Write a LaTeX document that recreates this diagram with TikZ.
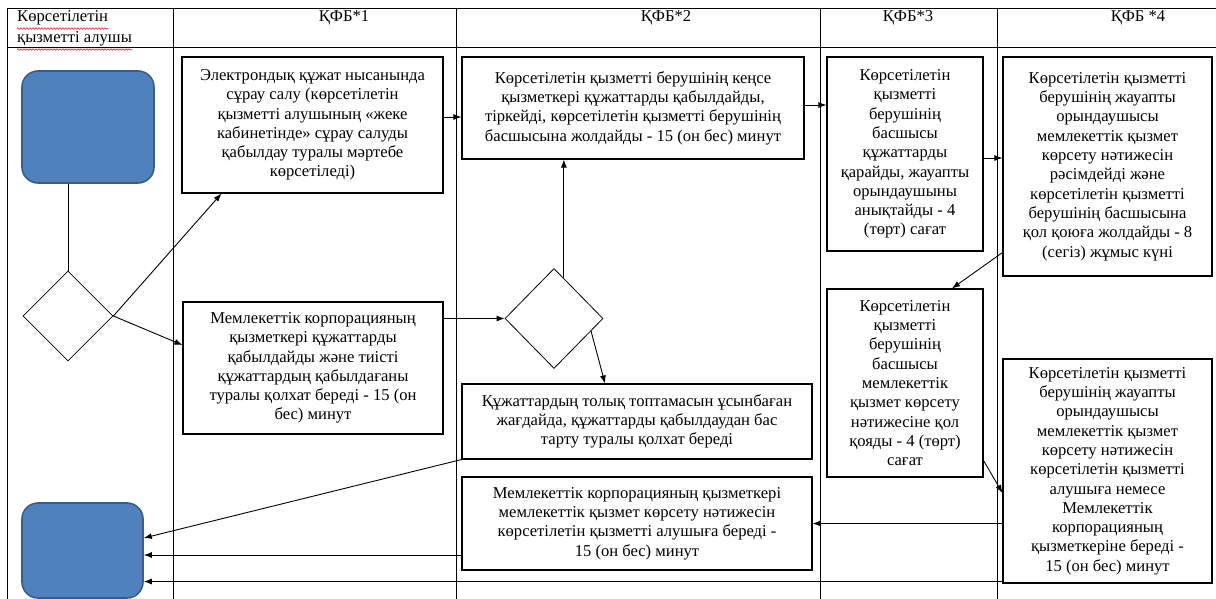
\documentclass[tikz,border=0pt]{standalone}
\usepackage{fontspec}
\setmainfont{Liberation Serif}
\usetikzlibrary{arrows.meta,calc,shapes.geometric,decorations.pathmorphing}
\definecolor{termfill}{HTML}{4F81BD}
\definecolor{termline}{HTML}{385D8A}
\begin{document}
\begin{tikzpicture}[x=1pt,y=-1pt,
  lane/.style={line width=1pt,black},
  procbox/.style={draw,line width=1.1pt,align=center,inner sep=2pt,
    font=\fontsize{16.6}{19.3}\selectfont},
  term/.style={draw=termline,fill=termfill,line width=1.6pt,rounded corners=16pt},
  decision/.style={draw,diamond,line width=0.8pt,inner sep=0pt},
  arr/.style={line width=0.9pt,-{Latex[length=8pt,width=6pt]}},
  plain/.style={line width=0.9pt},
  headtext/.style={font=\fontsize{16.6}{20}\selectfont,inner sep=0pt},
  spell/.style={red,line width=0.5pt,decorate,decoration={snake,amplitude=0.8pt,segment length=3pt}}
]
\useasboundingbox (0,0) rectangle (1216,599);
% lanes / table
\draw[lane] (7,9) -- (1216,9);
\draw[lane] (7,48) -- (1216,48);
\draw[lane] (7,9) -- (7,599);
\draw[lane] (173,9) -- (173,599);
\draw[lane] (456,9) -- (456,599);
\draw[lane] (820,9) -- (820,599);
\draw[lane] (997,9) -- (997,599);
% headers
\node[headtext,anchor=west] (h0a) at (17,18) {Көрсетілетін};
\node[headtext,anchor=west] (h0b) at (17,39) {қызметті алушы};
\coordinate (u1a) at ($(h0a.south west)+(0,3)$);
\coordinate (u1b) at ($(h0a.south east)+(0,3)$);
\coordinate (u2a) at ($(h0b.south west)+(0,3)$);
\coordinate (u2b) at ($(h0b.south east)+(0,3)$);
\draw[spell] (u1a) -- (u1b);
\draw[spell] (u2a) -- (u2b);
\node[headtext] (h1) at (344,18) {ҚФБ*1};
\node[headtext] (h2) at (666,18) {ҚФБ*2};
\node[headtext] (h3) at (908,18) {ҚФБ*3};
\node[headtext] (h4) at (1138,18) {ҚФБ *4};
% terminals
\node[term,minimum width=132pt,minimum height=112pt] (start) at (88,127) {};
\node[term,minimum width=121pt,minimum height=95pt] (end) at (82.5,550.5) {};
% decisions
\node[decision,minimum width=90pt,minimum height=90pt] (d1) at (68,316) {};
\node[decision,minimum width=98pt,minimum height=100pt] (d2) at (554,318.5) {};
% boxes
\node[procbox,minimum width=261pt,minimum height=136pt] (b1) at (312.5,125) {Электрондық құжат нысанында\\сұрау салу (көрсетілетін\\қызметті алушының «жеке\\кабинетінде» сұрау салуды\\қабылдау туралы мәртебе\\көрсетіледі)};
\node[procbox,minimum width=260pt,minimum height=132pt] (b2) at (313,368) {Мемлекеттік корпорацияның\\қызметкері құжаттарды\\қабылдайды және тиісті\\құжаттардың қабылдағаны\\туралы қолхат береді - 15 (он\\бес) минут};
\node[procbox,minimum width=342pt,minimum height=102pt] (b3) at (633,108) {Көрсетілетін қызметті берушінің кеңсе\\қызметкері құжаттарды қабылдайды,\\тіркейді, көрсетілетін қызметті берушінің\\басшысына жолдайды - 15 (он бес) минут};
\node[procbox,minimum width=350pt,minimum height=75pt] (b4) at (637,421.5) {Құжаттардың толық топтамасын ұсынбаған\\жағдайда, құжаттарды қабылдаудан бас\\тарту туралы қолхат береді};
\node[procbox,minimum width=350pt,minimum height=93pt] (b5) at (637,523.5) {Мемлекеттік корпорацияның қызметкері\\мемлекеттік қызмет көрсету нәтижесін\\көрсетілетін қызметті алушыға береді -\\15 (он бес) минут};
\node[procbox,minimum width=156pt,minimum height=194pt] (b6) at (905,154) {Көрсетілетін\\қызметті\\берушінің\\басшысы\\құжаттарды\\қарайды, жауапты\\орындаушыны\\анықтайды - 4\\(төрт) сағат};
\node[procbox,minimum width=209pt,minimum height=219pt] (b7) at (1107.5,166.5) {Көрсетілетін қызметті\\берушінің жауапты\\орындаушысы\\мемлекеттік қызмет\\көрсету нәтижесін\\рәсімдейді және\\көрсетілетін қызметті\\берушінің басшысына\\қол қоюға жолдайды - 8\\(сегіз) жұмыс күні};
\node[procbox,minimum width=156pt,minimum height=188pt] (b8) at (905,383) {Көрсетілетін\\қызметті\\берушінің\\басшысы\\мемлекеттік\\қызмет көрсету\\нәтижесіне қол\\қояды - 4 (төрт)\\сағат};
\node[procbox,minimum width=209pt,minimum height=224pt] (b9) at (1107.5,471) {Көрсетілетін қызметті\\берушінің жауапты\\орындаушысы\\мемлекеттік қызмет\\көрсету нәтижесін\\көрсетілетін қызметті\\алушыға немесе\\Мемлекеттік\\корпорацияның\\қызметкеріне береді -\\15 (он бес) минут};
% connector end points
\coordinate (c1) at ($(b1.east)+(0,-8)$);
\coordinate (c2) at ($(b3.east)+(0,-3)$);
\coordinate (c3) at ($(b6.east)+(0,4)$);
\coordinate (c4) at ($(b7.south west)+(0,-24)$);
\coordinate (c5) at ($(b8.north)+(47,0)$);
\coordinate (c6) at ($(b8.south east)+(0,-17)$);
\coordinate (c7) at ($(b9.west)+(0,22)$);
\coordinate (c8) at ($(d2.north)!0.2!(d2.east)$);
\coordinate (c9) at ($(d2.east)!0.25!(d2.south)$);
\coordinate (c10) at ($(b4.north)+(-32,0)$);
\coordinate (c11) at ($(end.east)+(0,-12.5)$);
\coordinate (c12) at ($(b5.west)+(0,31.5)$);
\coordinate (c13) at ($(b9.south west)+(0,-2)$);
\coordinate (c14) at ($(b1.south west)+(40,0)$);
\coordinate (c15) at ($(b2.west)+(0,-23)$);
% connectors
\draw[plain] (d1.north) -- (d1.north |- start.south);
\draw[arr] (d1.east) -- (c14);
\draw[arr] (d1.east) -- (c15);
\draw[arr] (c1) -- (c1 -| b3.west);
\draw[arr] (c2) -- (c2 -| b6.west);
\draw[arr] (c3) -- (c3 -| b7.west);
\draw[arr] (c4) -- (c5);
\draw[arr] (c6) -- (c7);
\draw[arr] (b9.west |- b5.east) -- (b5.east);
\draw[arr] (b2.east |- d2.west) -- (d2.west);
\draw[arr] (c8) -- (c8 |- b3.south);
\draw[arr] (c9) -- (c10);
\draw[arr] (b4.south west) -- (c11);
\draw[arr] (c12) -- (c12 -| end.east);
\draw[arr] (c13) -- (c13 -| end.east);
\end{tikzpicture}
\end{document}
